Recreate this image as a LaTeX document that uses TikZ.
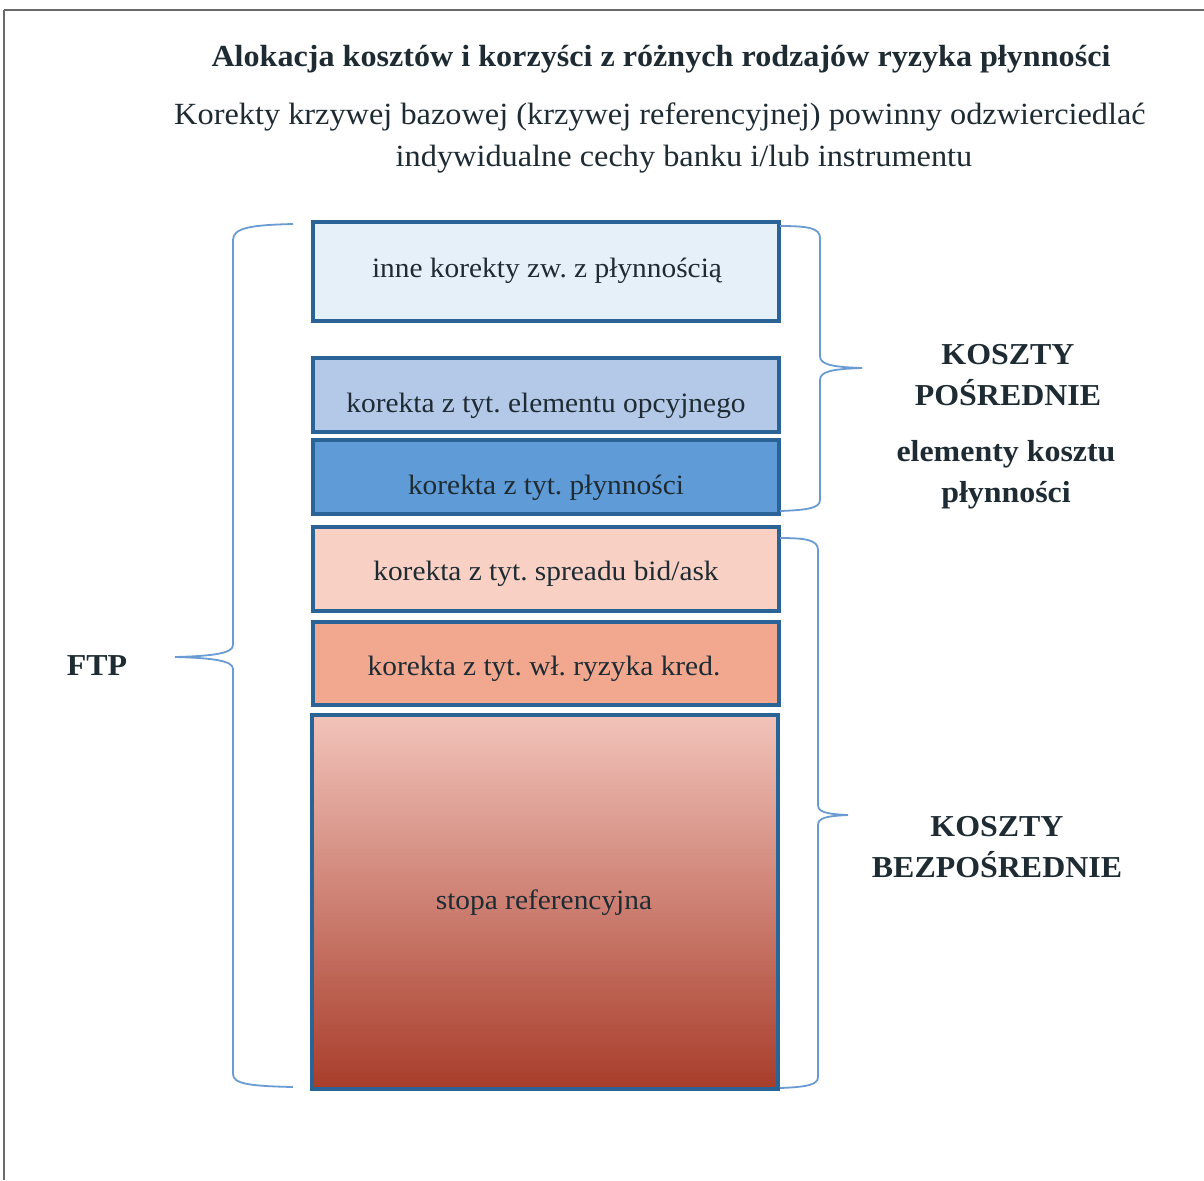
\documentclass[tikz,border=0pt]{standalone}
\usepackage{fontspec}
\setmainfont{Liberation Serif}[FakeStretch=1.05]
\frenchspacing
\definecolor{ink}{HTML}{1E2B33}
\definecolor{boxline}{HTML}{2A6496}
\definecolor{brace}{HTML}{6A9BD2}
\definecolor{fa}{HTML}{E6F0F9}
\definecolor{fb}{HTML}{B4C8E8}
\definecolor{fc}{HTML}{5F9BD6}
\definecolor{fd}{HTML}{F8D0C4}
\definecolor{fe}{HTML}{F1A88F}
\definecolor{gtop}{HTML}{F2C3BA}
\definecolor{gmid}{HTML}{E5977A}
\definecolor{gbot}{HTML}{A83D2B}
\definecolor{frame}{HTML}{6A6A6A}
\begin{document}
\begin{tikzpicture}[x=0.5pt,y=-0.5pt,
  barbox/.style={draw=boxline,line width=2pt,minimum width=233pt,inner sep=0pt},
  boxtext/.style={text=ink,font=\fontsize{14}{16}\selectfont},
  subtext/.style={text=ink,font=\fontsize{15.4}{21}\selectfont},
  bracepath/.style={draw=brace,line width=0.9pt},
  sidelabel/.style={text=ink,font=\fontsize{15.2}{20.5}\selectfont\bfseries,align=center}]
\useasboundingbox (0,0) rectangle (1204,1180);
% frame
\draw[frame,line width=0.6pt] (4,1180) -- (4,10);
\draw[frame,line width=1.3pt] (4,10) -- (1204,10);
% title
\node[text=ink,font=\fontsize{15.3}{18}\selectfont\bfseries] (title) at (661,59) {Alokacja kosztów i korzyści z różnych rodzajów ryzyka płynności};
\node[subtext] (sub1) at (660,117) {Korekty krzywej bazowej (krzywej referencyjnej) powinny odzwierciedlać};
\node[subtext] (sub2) at (684,159) {indywidualne cechy banku i/lub instrumentu};
% boxes
\node[barbox,fill=fa,minimum height=49.5pt] (b1) at (546,271.5) {};
\node[barbox,fill=fb,minimum height=37pt] (b2) at (546,395) {};
\node[barbox,fill=fc,minimum height=37pt] (b3) at (546,477) {};
\node[barbox,fill=fd,minimum height=42pt] (b4) at (546,569) {};
\node[barbox,fill=fe,minimum height=41.5pt] (b5) at (546,663.5) {};
\node[barbox,top color=gtop,middle color=gmid,bottom color=gbot,minimum height=187pt] (b6) at (545,902) {};
\node[boxtext] (t1) at (547,271) {inne korekty zw. z płynnością};
\node[boxtext] (t2) at (546,406) {korekta z tyt. elementu opcyjnego};
\node[boxtext] (t3) at (546,488) {korekta z tyt. płynności};
\node[boxtext] (t4) at (546,574) {korekta z tyt. spreadu bid/ask};
\node[boxtext] (t5) at (544,669) {korekta z tyt. wł. ryzyka kred.};
\node[boxtext] (t6) at (544,903) {stopa referencyjna};
% left brace (FTP)
\path[bracepath] (293,224) .. controls (250,225) and (233,228) .. (233,240)
  -- (233,645) .. controls (233,653) and (215,656) .. (175,657)
  .. controls (215,658) and (233,661) .. (233,669)
  -- (233,1074) .. controls (233,1084) and (250,1086) .. (293,1087);
% right brace 1
\path[bracepath] (780,226) .. controls (808,226) and (820,228) .. (820,238)
  -- (820,356) .. controls (820,364) and (830,367) .. (862,368)
  .. controls (830,369) and (820,372) .. (820,380)
  -- (820,500) .. controls (820,508) and (808,510) .. (780,511);
% right brace 2
\path[bracepath] (780,538) .. controls (806,538) and (818,540) .. (818,550)
  -- (818,805) .. controls (818,812) and (826,814) .. (848,815)
  .. controls (826,816) and (818,818) .. (818,825)
  -- (818,1077) .. controls (818,1085) and (806,1087) .. (780,1088);
% labels
\node[sidelabel] (ftp) at (97,666) {FTP};
\node[sidelabel] (kp) at (1008,375) {KOSZTY\\POŚREDNIE};
\node[sidelabel] (ekp) at (1006,475) {elementy kosztu\\płynności};
\node[sidelabel] (kb) at (997,847) {KOSZTY\\BEZPOŚREDNIE};
\end{tikzpicture}
\end{document}
